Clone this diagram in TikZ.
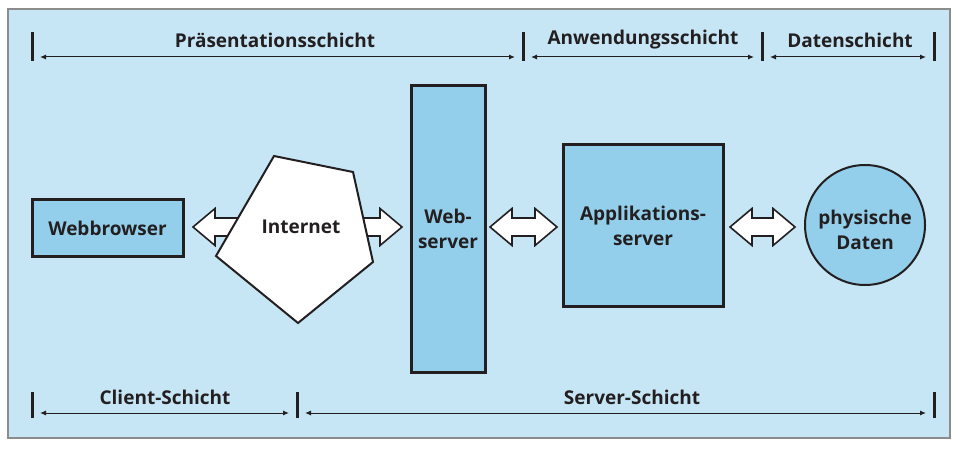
\documentclass[tikz,border=0pt]{standalone}
\usepackage{fontspec}
\setmainfont{Open Sans}
\usetikzlibrary{arrows.meta,shapes.geometric,calc}
\definecolor{bgc}{HTML}{C6E6F6}
\definecolor{boxc}{HTML}{93CFEB}
\definecolor{ink}{HTML}{231F20}
\definecolor{framec}{HTML}{8C8C8C}
% block double arrow: #1 left tip x, #2 right tip x, #3 centre y
\newcommand\blockarrow[3]{%
  \draw[blk] (#1,#3) -- (#1+22,#3-18.5) -- (#1+22,#3-9) -- (#2-22,#3-9) -- (#2-22,#3-18.5)
    -- (#2,#3) -- (#2-22,#3+18.5) -- (#2-22,#3+9) -- (#1+22,#3+9) -- (#1+22,#3+18.5) -- cycle;}
\begin{document}
\begin{tikzpicture}[x=1pt,y=-1pt,
  lbl/.style={font=\fontsize{19}{25}\selectfont\bfseries, text=ink, align=center},
  box/.style={draw=ink, line width=3pt, fill=boxc, lbl, inner sep=0pt},
  blk/.style={draw=ink, fill=white, line width=1.6pt, line join=miter},
  bar/.style={line width=3pt, draw=ink},
  dim/.style={line width=1pt, draw=ink, {Latex[length=6pt,width=5pt]}-{Latex[length=6pt,width=5pt]},
              shorten <=8pt, shorten >=8pt}
]
\useasboundingbox (0,0) rectangle (958,449);
\node[draw=framec, line width=1.2pt, fill=bgc, minimum width=942pt, minimum height=429pt, inner sep=0pt] (bg) at (479,223.5) {};

% long double arrow behind the Internet shape
\blockarrow{193}{402}{227}
\draw[draw=ink, line width=2pt, fill=white, line join=miter]
  (274,156) -- (353,172) -- (373,262) -- (298,323) -- (216,256) -- cycle;
\node[lbl] (inet) at (301,227) {Internet};

\node[box, minimum width=151pt, minimum height=56pt] (wb) at (107.5,228) {Webbrowser};
\node[box, minimum width=74pt, minimum height=286pt] (ws) at (448,229) {Web-\\server};
\node[box, minimum width=160pt, minimum height=161pt] (as) at (643,225.5) {Applikations-\\server};
\node[circle, draw=ink, line width=2pt, fill=boxc, minimum size=120pt, inner sep=0pt] (pd) at (865,225) {};
\node[lbl] (pdt) at (865,230) {physische\\Daten};

\blockarrow{490}{557}{227}
\blockarrow{730}{795}{227}

% top dimension bars
\coordinate (t1) at (32,57);
\coordinate (t2) at (523,57);
\coordinate (t3) at (762,57);
\coordinate (t4) at (934,57);
\foreach \c in {t1,t2,t3,t4}{
  \draw[bar] ($(\c)+(0,-25)$) -- ($(\c)+(0,4)$);
}
\draw[dim] (t1) -- (t2);
\draw[dim] (t2) -- (t3);
\draw[dim] (t3) -- (t4);
\node[lbl] (l1) at (275,40) {Präsentationsschicht};
\node[lbl] (l2) at (643,40) {Anwendungsschicht};
\node[lbl] (l3) at (850,40) {Datenschicht};

% bottom dimension bars
\coordinate (b1) at (32,413);
\coordinate (b2) at (297,413);
\coordinate (b3) at (934,413);
\foreach \c in {b1,b2,b3}{
  \draw[bar] ($(\c)+(0,-21)$) -- ($(\c)+(0,5)$);
}
\draw[dim] (b1) -- (b2);
\draw[dim] (b2) -- (b3);
\node[lbl] (l4) at (165,397) {Client-Schicht};
\node[lbl] (l5) at (632,397) {Server-Schicht};
\end{tikzpicture}
\end{document}
